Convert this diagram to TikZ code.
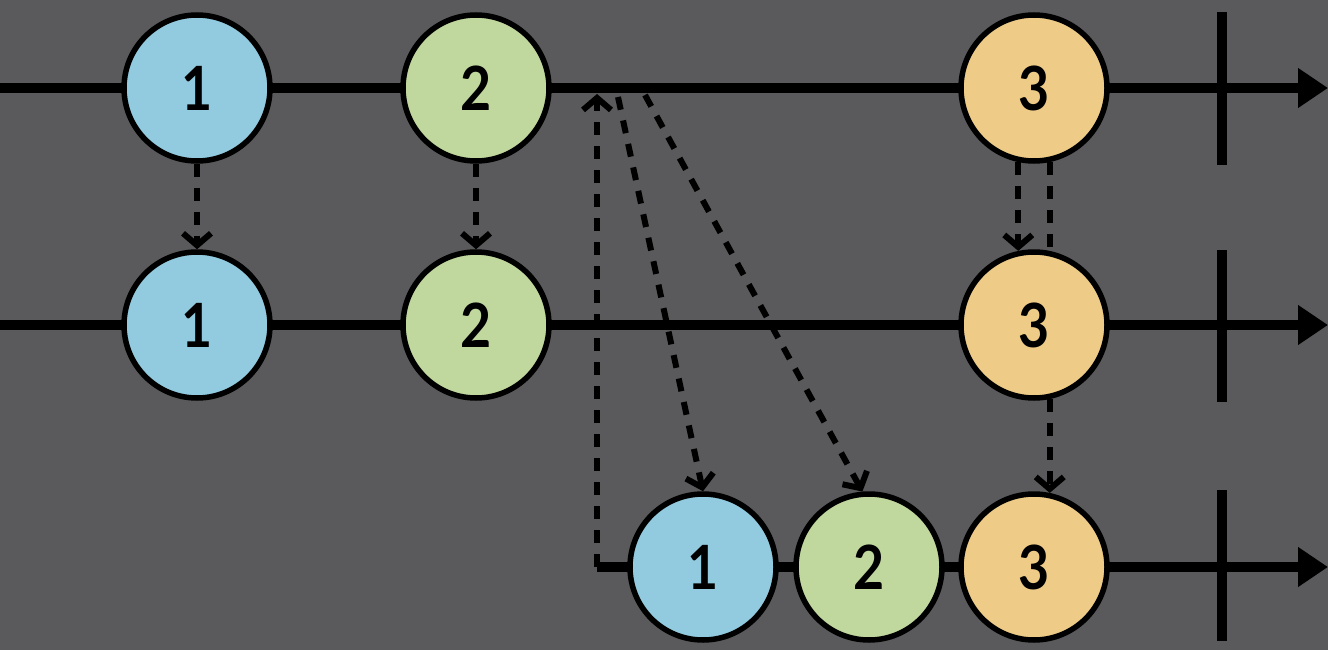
\documentclass[tikz,border=0pt]{standalone}
\usepackage{fontspec}
\setmainfont{Lato}
\newfontfamily\marblefont[FakeStretch=0.88]{Lato}
\usetikzlibrary{arrows.meta,calc}
\definecolor{bg}{RGB}{90,90,92}
\definecolor{cblue}{RGB}{146,203,223}
\definecolor{cgreen}{RGB}{192,216,158}
\definecolor{corange}{RGB}{238,204,136}
\tikzset{
  marble/.style={circle,draw=black,line width=5.5pt,minimum size=146pt,inner sep=0pt,
    font=\marblefont\fontsize{61}{61}\selectfont\bfseries},
  timeline/.style={line width=10pt,-{Triangle[length=30pt,width=38pt]}},
  endtick/.style={line width=10pt},
  flow/.style={line width=6pt,dash pattern=on 13pt off 11pt,-{Straight Barb[length=12pt,width=28pt,line width=6pt]}},
  flowplain/.style={line width=6pt,dash pattern=on 13pt off 11pt},
}
\begin{document}
\begin{tikzpicture}[x=1pt,y=-1pt]
\fill[bg] (0,0) rectangle (1328,650);
\useasboundingbox (0,0) rectangle (1328,650);
% timeline end points
\coordinate (s1) at (0,88);
\coordinate (e1) at (1328,88);
\coordinate (s2) at (0,325);
\coordinate (e2) at (1328,325);
\coordinate (s3) at (597,567);
\coordinate (e3) at (1328,567);
\coordinate (q) at (597,94);
\coordinate (d1) at (618,97);
\coordinate (d2) at (645,95);
% ticks
\coordinate (t1a) at (1222,12);  \coordinate (t1b) at (1222,165);
\coordinate (t2a) at (1222,250); \coordinate (t2b) at (1222,402);
\coordinate (t3a) at (1222,490); \coordinate (t3b) at (1222,641);
\draw[timeline] (s1) -- (e1);
\draw[timeline] (s2) -- (e2);
\draw[timeline] (s3) -- (e3);
\draw[endtick] (t1a) -- (t1b);
\draw[endtick] (t2a) -- (t2b);
\draw[endtick] (t3a) -- (t3b);
% marbles
\node[marble,fill=cblue] (a1) at (197,88) {1};
\node[marble,fill=cgreen] (a2) at (476,88) {2};
\node[marble,fill=corange] (a3) at (1034,88) {3};
\node[marble,fill=cblue] (b1) at (197,325) {1};
\node[marble,fill=cgreen] (b2) at (476,325) {2};
\node[marble,fill=corange] (b3) at (1034,325) {3};
\node[marble,fill=cblue] (c1) at (703,567) {1};
\node[marble,fill=cgreen] (c2) at (869,567) {2};
\node[marble,fill=corange] (c3) at (1034,567) {3};
% dashed flows
\draw[flow] (a1.south) -- (b1.north);
\draw[flow] (a2.south) -- (b2.north);
\draw[flow] (a3.258) -- (b3.102);
\draw[flowplain] (a3.282) -- (b3.78);
\draw[flow] (b3.282) -- (c3.78);
\draw[flow] (s3) -- (q);
\draw[flow] (d1) -- (c1.north);
\draw[flow] (d2) -- (c2.95);
\end{tikzpicture}
\end{document}
